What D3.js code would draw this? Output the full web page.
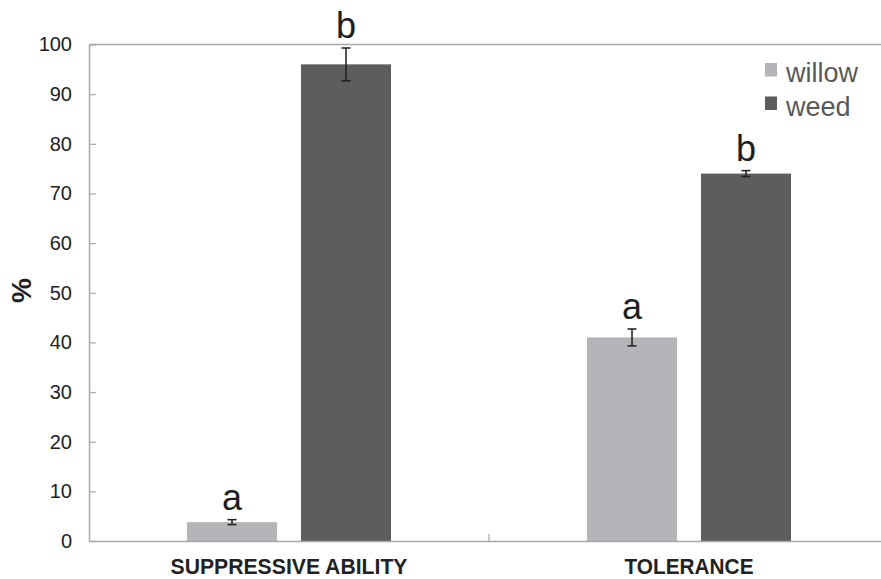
<!DOCTYPE html>
<html>
<head>
<meta charset="utf-8">
<script src="https://cdn.jsdelivr.net/npm/d3@7"></script>
<style>
  html, body { margin: 0; padding: 0; background: #fff; }
  svg { display: block; }
</style>
</head>
<body>
<svg id="chart" width="881" height="579"></svg>
<script>
// ---- data ----
const categories = ["SUPPRESSIVE ABILITY", "TOLERANCE"];
const seriesNames = ["willow", "weed"];
const willowValues = [3.8, 41.0];
const willowErrors = [0.5, 1.7];
const weedValues = [96.0, 74.0];
const weedErrors = [3.3, 0.6];
const willowLetters = ["a", "a"];
const weedLetters = ["b", "b"];
const yTicks = [0, 10, 20, 30, 40, 50, 60, 70, 80, 90, 100];

const colors = { willow: "#b4b5b8", weed: "#5d5d5f" };

(function () {
const svg = d3.select("#chart");
const mLeft = 89, mRight = 889, mTop = 44.5, mBottom = 541;

const x0 = d3.scaleBand().domain(categories).range([mLeft, mRight]).padding(0);
const x1 = d3.scaleBand().domain(seriesNames).range([0, x0.bandwidth()])
  .paddingInner(0.21).paddingOuter(0.86);
const y = d3.scaleLinear().domain([0, 100]).range([mBottom, mTop]);

const rows = [];
categories.forEach((c, i) => {
  rows.push({cat: c, s: "willow", v: willowValues[i], e: willowErrors[i], l: willowLetters[i]});
  rows.push({cat: c, s: "weed", v: weedValues[i], e: weedErrors[i], l: weedLetters[i]});
});

// top frame line
svg.append("line").attr("x1", mLeft).attr("x2", mRight).attr("y1", y(100)).attr("y2", y(100))
  .attr("stroke", "#a8a8aa").attr("stroke-width", 1.5);

// bars
svg.append("g").selectAll("rect").data(rows).join("rect")
  .attr("x", d => x0(d.cat) + x1(d.s))
  .attr("y", d => y(d.v))
  .attr("width", x1.bandwidth())
  .attr("height", d => y(0) - y(d.v))
  .attr("fill", d => colors[d.s]);

// y axis
const yAxis = d3.axisLeft(y).tickValues(yTicks).tickSizeInner(-7).tickSizeOuter(0).tickPadding(17);
const gy = svg.append("g").attr("transform", `translate(${mLeft},0)`).call(yAxis);
gy.select(".domain").attr("stroke", "#a8a8aa").attr("stroke-width", 1.5);
gy.selectAll(".tick line").attr("stroke", "#a8a8aa").attr("stroke-width", 1.2);
gy.selectAll(".tick text").attr("font-family", "'Liberation Sans', Arial, sans-serif")
  .attr("font-size", 20).attr("fill", "#222");

// x axis
const xAxis = d3.axisBottom(x0).tickSize(0).tickPadding(18);
const gx = svg.append("g").attr("transform", `translate(0,${mBottom})`).call(xAxis);
gx.select(".domain").attr("stroke", "#a8a8aa").attr("stroke-width", 1.5);
gx.selectAll(".tick text")
  .attr("font-family", "'Liberation Sans Narrow', 'Liberation Sans', Arial, sans-serif")
  .attr("font-weight", "bold").attr("font-size", 21.5).attr("fill", "#222")
  .attr("dy", "0.71em")
  .attr("textLength", d => d === categories[0] ? 237 : 129)
  .attr("lengthAdjust", "spacingAndGlyphs");
// category separator tick
svg.append("line")
  .attr("x1", x0(categories[1])).attr("x2", x0(categories[1]))
  .attr("y1", mBottom).attr("y2", mBottom - 7)
  .attr("stroke", "#a8a8aa").attr("stroke-width", 1.2);

// error bars
const eg = svg.append("g").attr("stroke", "#1e1e1e").attr("stroke-width", 1.5);
rows.forEach(d => {
  const cx = x0(d.cat) + x1(d.s) + x1.bandwidth() / 2;
  eg.append("line").attr("x1", cx).attr("x2", cx).attr("y1", y(d.v + d.e)).attr("y2", y(d.v - d.e));
  eg.append("line").attr("x1", cx - 4.5).attr("x2", cx + 4.5).attr("y1", y(d.v + d.e)).attr("y2", y(d.v + d.e));
  eg.append("line").attr("x1", cx - 4.5).attr("x2", cx + 4.5).attr("y1", y(d.v - d.e)).attr("y2", y(d.v - d.e));
});

// significance letters
svg.append("g").selectAll("text").data(rows).join("text")
  .attr("x", d => x0(d.cat) + x1(d.s) + x1.bandwidth() / 2)
  .attr("y", d => y(d.v + d.e) - 10)
  .attr("text-anchor", "middle")
  .attr("font-family", "'Liberation Sans', Arial, sans-serif")
  .attr("font-size", 36).attr("fill", "#1e1e1e")
  .text(d => d.l);

// y title
svg.append("text")
  .attr("transform", "translate(31,290.5) rotate(-90)")
  .attr("text-anchor", "middle")
  .attr("font-family", "'Liberation Sans', Arial, sans-serif")
  .attr("font-weight", "bold").attr("font-size", 28).attr("fill", "#1e1e1e")
  .text("%");

// legend
const lg = svg.append("g");
seriesNames.forEach((s, i) => {
  const yy = 63 + i * 33.5;
  lg.append("rect").attr("x", 765).attr("y", yy).attr("width", 12).attr("height", 13.5).attr("fill", colors[s]);
  lg.append("text").attr("x", 786).attr("y", yy + 19)
    .attr("font-family", "'Liberation Sans', Arial, sans-serif")
    .attr("font-size", 27).attr("fill", "#58595b")
    .text(s);
});
})();
</script>
</body>
</html>
